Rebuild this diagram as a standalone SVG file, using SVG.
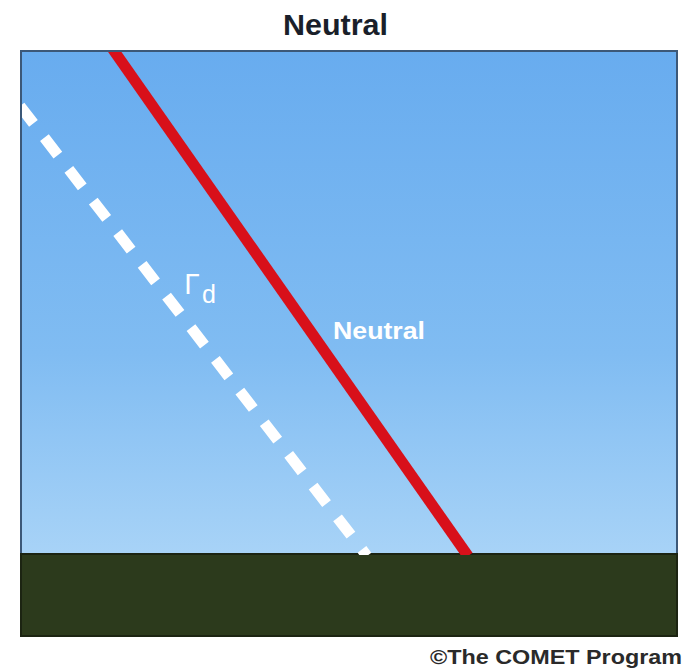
<svg xmlns="http://www.w3.org/2000/svg" width="691" height="668" viewBox="0 0 691 668">
<defs>
<style>
.t{font-family:"Liberation Sans",Arial,sans-serif;font-weight:bold}
.n{font-family:"Liberation Sans",Arial,sans-serif;font-weight:normal}
</style>
<linearGradient id="sky" x1="0" y1="0" x2="0" y2="1">
<stop offset="0" stop-color="#68acef"/>
<stop offset="0.6" stop-color="#80bcf2"/>
<stop offset="1" stop-color="#a8d3f7"/>
</linearGradient>
<clipPath id="c"><rect x="22" y="52" width="655" height="503"/></clipPath>
</defs>
<rect width="691" height="668" fill="#ffffff"/>
<text class="t" x="283" y="35" font-size="29" fill="#1a1f2a" textLength="105" lengthAdjust="spacingAndGlyphs">Neutral</text>
<g id="sky-area">
<rect x="21" y="51" width="656" height="504" fill="url(#sky)" stroke="#3c5878" stroke-width="2"/>
</g>
<g id="ground">
<rect x="21" y="554" width="656" height="82" fill="#2c3a1c" stroke="#1c2412" stroke-width="2"/>
</g>
<g id="connectors" clip-path="url(#c)">
<line id="dry" x1="20" y1="106" x2="367" y2="556" stroke="#ffffff" stroke-width="11" stroke-dasharray="22 18"/>
<line id="neutral" x1="112" y1="48" x2="468" y2="556" stroke="#d8101a" stroke-width="11"/>
</g>
<g id="labels">
<text x="184" y="294" font-size="27" fill="#ffffff" font-family="'DejaVu Sans',sans-serif">Γ</text>
<text class="n" x="202" y="303" font-size="25" fill="#ffffff">d</text>
<text class="t" x="333" y="339" font-size="24" fill="#ffffff" textLength="92" lengthAdjust="spacingAndGlyphs">Neutral</text>
<text class="t" x="430" y="664" font-size="20" fill="#2a2a2a" textLength="252" lengthAdjust="spacingAndGlyphs">©The COMET Program</text>
</g>
</svg>
